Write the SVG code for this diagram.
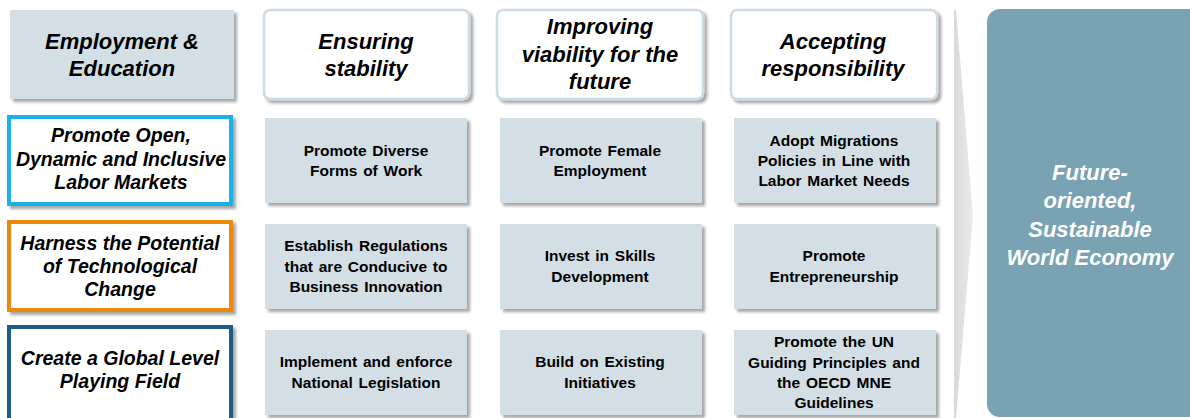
<svg xmlns="http://www.w3.org/2000/svg" width="1190" height="418" viewBox="0 0 1190 418">
<defs>
<filter id="sh" x="-10%" y="-10%" width="130%" height="130%">
<feDropShadow dx="3" dy="3" stdDeviation="1.8" flood-color="#000" flood-opacity="0.35"/>
</filter>
<linearGradient id="chev" x1="0" y1="0" x2="1" y2="0">
<stop offset="0" stop-color="#d9d9d9"/>
<stop offset="1" stop-color="#ececec"/>
</linearGradient>
</defs>
<style>
.cell{fill:#d4dfe5;filter:url(#sh)}
.head{fill:#ffffff;stroke:#cddbe3;stroke-width:2.5;filter:url(#sh)}
.pillar{fill:#ffffff;stroke-width:4;filter:url(#sh)}
.ht{font-family:"Liberation Sans",Arial,sans-serif;font-weight:bold;font-style:italic;font-size:22px;fill:#000;text-anchor:middle}
.pt{font-family:"Liberation Sans",Arial,sans-serif;font-weight:bold;font-style:italic;font-size:19.5px;fill:#000;text-anchor:middle}
.ct{font-family:"Liberation Sans",Arial,sans-serif;font-weight:bold;font-size:15.5px;word-spacing:1.5px;fill:#000;text-anchor:middle}
.wt{font-family:"Liberation Sans",Arial,sans-serif;font-weight:bold;font-style:italic;font-size:22px;fill:#fff;text-anchor:middle}
</style>
<rect width="1190" height="418" fill="#fff"/>

<g id="chevron">
<polygon points="954,10 956,10 973,216 956,418 954,418" fill="url(#chev)"/>
</g>

<g id="goal">
<rect x="987" y="9" width="230" height="408" rx="13" fill="#79a2b2"/>
<text class="wt" x="1090" y="180">Future-</text>
<text class="wt" x="1090" y="208">oriented,</text>
<text class="wt" x="1090" y="237">Sustainable</text>
<text class="wt" x="1090" y="265">World Economy</text>
</g>

<g id="h-employment">
<rect class="cell" x="10" y="10" width="224" height="89"/>
<text class="ht" x="122" y="49">Employment &amp;</text>
<text class="ht" x="122" y="76">Education</text>
</g>
<g id="h-stability">
<rect class="head" x="264" y="10" width="205" height="89" rx="6"/>
<text class="ht" x="366" y="49">Ensuring</text>
<text class="ht" x="366" y="76">stability</text>
</g>
<g id="h-viability">
<rect class="head" x="497" y="10" width="206" height="89" rx="6"/>
<text class="ht" x="600" y="34">Improving</text>
<text class="ht" x="600" y="62">viability for the</text>
<text class="ht" x="600" y="89">future</text>
</g>
<g id="h-responsibility">
<rect class="head" x="731" y="10" width="206" height="89" rx="6"/>
<text class="ht" x="833" y="49">Accepting</text>
<text class="ht" x="833" y="76">responsibility</text>
</g>

<g id="p-labor">
<rect class="pillar" x="9" y="117" width="222" height="87" stroke="#19b2e8"/>
<text class="pt" x="121" y="142">Promote Open,</text>
<text class="pt" x="121" y="166">Dynamic and Inclusive</text>
<text class="pt" x="121" y="189">Labor Markets</text>
</g>
<g id="p-tech">
<rect class="pillar" x="9" y="222" width="222" height="88" stroke="#f0870f"/>
<text class="pt" x="120" y="250">Harness the Potential</text>
<text class="pt" x="120" y="273">of Technological</text>
<text class="pt" x="120" y="296">Change</text>
</g>
<g id="p-global">
<rect class="pillar" x="9" y="327" width="222" height="96" stroke="#1c5b89"/>
<text class="pt" x="120" y="365">Create a Global Level</text>
<text class="pt" x="120" y="388">Playing Field</text>
</g>

<g id="c-diverse">
<rect class="cell" x="265" y="118" width="202" height="85"/>
<text class="ct" x="366" y="156">Promote Diverse</text>
<text class="ct" x="366" y="176">Forms of Work</text>
</g>
<g id="c-female">
<rect class="cell" x="500" y="118" width="202" height="85"/>
<text class="ct" x="600" y="156">Promote Female</text>
<text class="ct" x="600" y="176">Employment</text>
</g>
<g id="c-migration">
<rect class="cell" x="734" y="118" width="202" height="85"/>
<text class="ct" x="834" y="146">Adopt Migrations</text>
<text class="ct" x="834" y="166">Policies in Line with</text>
<text class="ct" x="834" y="186">Labor Market Needs</text>
</g>

<g id="c-regulations">
<rect class="cell" x="265" y="224" width="202" height="85"/>
<text class="ct" x="366" y="251">Establish Regulations</text>
<text class="ct" x="366" y="272">that are Conducive to</text>
<text class="ct" x="366" y="292">Business Innovation</text>
</g>
<g id="c-skills">
<rect class="cell" x="500" y="224" width="202" height="85"/>
<text class="ct" x="600" y="261">Invest in Skills</text>
<text class="ct" x="600" y="282">Development</text>
</g>
<g id="c-entrepreneurship">
<rect class="cell" x="734" y="224" width="202" height="85"/>
<text class="ct" x="834" y="261">Promote</text>
<text class="ct" x="834" y="282">Entrepreneurship</text>
</g>

<g id="c-legislation">
<rect class="cell" x="265" y="330" width="202" height="85"/>
<text class="ct" x="366" y="367">Implement and enforce</text>
<text class="ct" x="366" y="388">National Legislation</text>
</g>
<g id="c-initiatives">
<rect class="cell" x="500" y="330" width="202" height="85"/>
<text class="ct" x="600" y="367">Build on Existing</text>
<text class="ct" x="600" y="388">Initiatives</text>
</g>
<g id="c-un">
<rect class="cell" x="734" y="330" width="202" height="85"/>
<text class="ct" x="834" y="347">Promote the UN</text>
<text class="ct" x="834" y="368">Guiding Principles and</text>
<text class="ct" x="834" y="388">the OECD MNE</text>
<text class="ct" x="834" y="408">Guidelines</text>
</g>
</svg>
